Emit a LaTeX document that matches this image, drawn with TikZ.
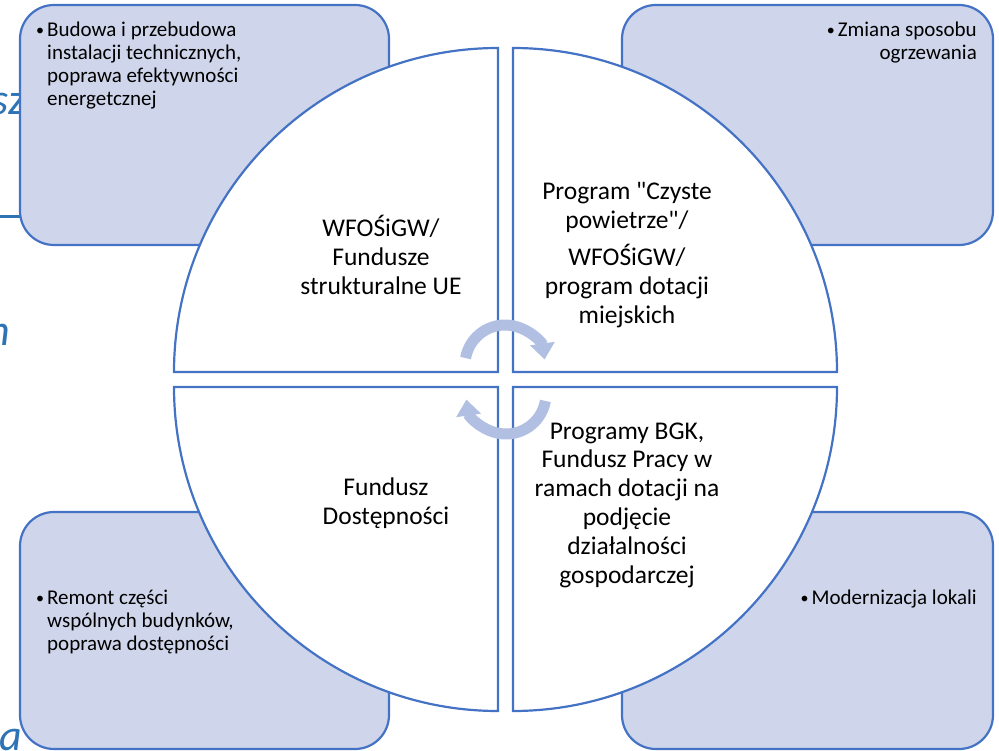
\documentclass[tikz,border=0pt]{standalone}
\usepackage{fontspec}
\setmainfont{Carlito}
\usetikzlibrary{arrows.meta}
\definecolor{edge}{HTML}{4472C4}
\definecolor{boxfill}{HTML}{CFD5EA}
\definecolor{cyc}{HTML}{B0BFE2}
\definecolor{stray}{HTML}{2E74B5}
\newcommand{\smbul}{\raisebox{1pt}{\fontsize{16}{16}\selectfont\textbullet}}
\begin{document}
\begin{tikzpicture}[x=1pt,y=-1pt,
  corner/.style={draw=edge, fill=boxfill, line width=2.2pt, rounded corners=34pt},
  quad/.style={draw=edge, fill=white, line width=2.2pt},
  big/.style={font=\fontsize{25.5}{28.8}\selectfont, align=center, inner sep=0pt, text=black},
  small/.style={font=\fontsize{21}{23}\selectfont, inner sep=0pt, text=black},
  cycarrow/.style={draw=cyc, line width=11pt, -{Triangle[width=24pt,length=16pt]}},
  strayt/.style={text=stray, font=\fontsize{44}{50}\selectfont\itshape, inner sep=0pt}]
\useasboundingbox (0,0) rectangle (999,751);
% stray background text fragments
\node[strayt, anchor=base east] (s1) at (26,115) {sz};
\draw[stray, line width=3pt] (0,217) -- (30,217);
\node[strayt, anchor=base east] (s2) at (10,345) {n};
\node[strayt, anchor=base east] (s3) at (22,750) {a};
% corner boxes
\path[corner] (20,5) rectangle (389,245);
\path[corner] (622,5) rectangle (993,245);
\path[corner] (20,512) rectangle (389,749);
\path[corner] (622,512) rectangle (993,749);
% quadrants
\path[quad] (498,372) -- (174,372) arc[start angle=180, end angle=270, radius=324] -- cycle;
\path[quad] (513,372) -- (513,48) arc[start angle=270, end angle=360, radius=324] -- cycle;
\path[quad] (513,387) -- (837,387) arc[start angle=0, end angle=90, radius=324] -- cycle;
\path[quad] (498,387) -- (498,711) arc[start angle=90, end angle=180, radius=324] -- cycle;
% cycle arrows
\coordinate (cu) at (505,365);
\coordinate (cl) at (506,394);
\draw[cycarrow] (cu) ++(190:40) arc[start angle=190, end angle=352, radius=40];
\draw[cycarrow] (cl) ++(10:40) arc[start angle=10, end angle=172, radius=40];
% box texts
\node[small, anchor=north west, align=left] (tl) at (36,22)
  {\makebox[11pt][l]{\smbul}Budowa i przebudowa\\\hspace*{11pt}instalacji technicznych,\\\hspace*{11pt}poprawa efektywności\\\hspace*{11pt}energetcznej};
\node[small, anchor=north east, align=right] (tr) at (977,22)
  {\smbul\hspace{3pt}Zmiana sposobu\\ogrzewania};
\node[small, anchor=north west, align=left] (bl) at (36,590)
  {\makebox[11pt][l]{\smbul}Remont części\\\hspace*{11pt}wspólnych budynków,\\\hspace*{11pt}poprawa dostępności};
\node[small, anchor=north east, align=right] (br) at (977,590)
  {\smbul\hspace{3pt}Modernizacja lokali};
% quadrant texts
\node[big] (ul) at (381,255) {WFOŚiGW/\\Fundusze\\strukturalne UE};
\node[big] (ur) at (627,255) {Program \textquotedbl Czyste\\powietrze\textquotedbl/\\[8pt]WFOŚiGW/\\program dotacji\\miejskich};
\node[big] (ll) at (386,503) {Fundusz\\Dostępności};
\node[big] (lr) at (627,505) {Programy BGK,\\Fundusz Pracy w\\ramach dotacji na\\podjęcie\\działalności\\gospodarczej};
\end{tikzpicture}
\end{document}
